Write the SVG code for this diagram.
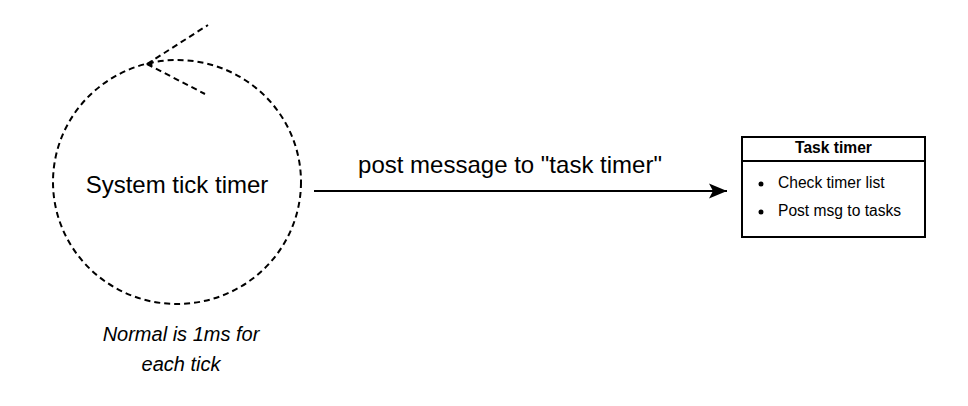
<svg xmlns="http://www.w3.org/2000/svg" width="968" height="406" viewBox="0 0 968 406">
<style>
  text { font-family: "Liberation Sans", Arial, sans-serif; fill: #000; }
  .dash { fill: none; stroke: #000; stroke-width: 2; stroke-dasharray: 6 4; }
  .solid { fill: none; stroke: #000; stroke-width: 2; }
</style>
<defs>
  <marker id="arrow" markerUnits="userSpaceOnUse" markerWidth="20" markerHeight="18" refX="19" refY="8" orient="auto">
    <path d="M1,0.5 L19,8 L1,15.5 L5,8 Z" fill="#000"/>
  </marker>
</defs>
<rect width="968" height="406" fill="#fff"/>
<g id="system-tick-timer">
  <ellipse class="dash" cx="177" cy="182" rx="124" ry="122"/>
  <path d="M147,64 L208,25" class="dash"/>
  <path d="M147,64 L205,94" class="dash"/>
  <path d="M146,64 L153,60 L152,67 Z" fill="#000"/>
  <text x="177" y="193" font-size="24" text-anchor="middle">System tick timer</text>
</g>
<g id="note">
  <text x="181" y="341" font-size="20" font-style="italic" text-anchor="middle">Normal is 1ms for</text>
  <text x="181" y="371" font-size="20" font-style="italic" text-anchor="middle">each tick</text>
</g>
<g id="task-timer">
  <rect x="742" y="137" width="183" height="100" fill="#fff" stroke="#000" stroke-width="2"/>
  <line x1="742" y1="161" x2="925" y2="161" stroke="#000" stroke-width="2"/>
  <text x="833.5" y="153" font-size="15.6" font-weight="bold" text-anchor="middle">Task timer</text>
  <circle cx="761" cy="184" r="2.5" fill="#000"/>
  <text x="778" y="188" font-size="15.6">Check timer list</text>
  <circle cx="761" cy="212" r="2.5" fill="#000"/>
  <text x="778" y="216" font-size="15.6">Post msg to tasks</text>
</g>
<g id="connectors">
  <line x1="314" y1="191" x2="727" y2="191" class="solid" marker-end="url(#arrow)"/>
  <text x="510" y="173" font-size="24" text-anchor="middle">post message to "task timer"</text>
</g>
</svg>
